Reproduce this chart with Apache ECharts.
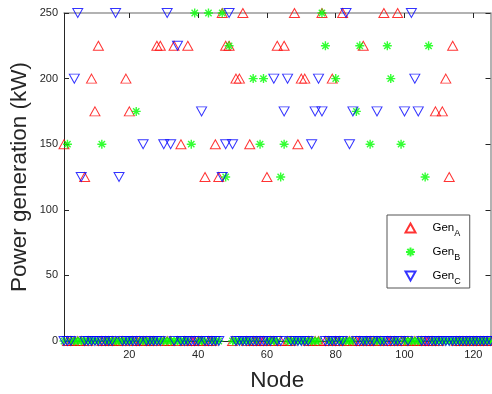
<!DOCTYPE html>
<html><head><meta charset="utf-8">
<script src="https://cdn.jsdelivr.net/npm/echarts@6/dist/echarts.min.js"></script>
<style>html,body{margin:0;padding:0;background:#fff}#c{width:492px;height:394px}</style>
</head><body><div id="c"></div>
<script>
// Node indices 1..125
const nodes = Array.from({length: 125}, (_, i) => i + 1);
const xTickValues = [20, 40, 60, 80, 100, 120];

const genA = [
  150,0,0,0,0,0,125,0,200,175,
  225,0,0,0,0,0,0,0,200,175,
  0,0,0,0,0,0,0,225,225,0,
  0,0,225,0,150,0,225,0,0,0,
  0,125,0,0,150,125,250,225,225,0,
  200,200,250,0,150,0,0,0,0,125,
  0,0,225,0,225,0,0,250,150,200,
  200,0,0,0,0,250,0,0,200,0,
  0,250,0,0,0,0,0,225,0,0,
  0,0,0,250,0,0,0,250,0,0,
  0,0,0,0,0,0,0,0,175,0,
  175,200,125,225,0,0,0,0,0,0,
  0,0,0,0,0
];
const genB = [
  0,150,0,0,0,0,0,0,0,0,
  0,150,0,0,0,0,0,0,0,0,
  0,175,0,0,0,0,0,0,0,0,
  0,0,0,0,0,0,0,150,250,0,
  0,0,250,0,0,0,250,125,225,0,
  0,0,0,0,0,200,0,150,200,0,
  0,0,0,125,150,0,0,0,0,0,
  0,0,0,0,0,250,225,0,0,200,
  0,0,0,0,0,175,225,0,0,150,
  0,0,0,0,225,200,0,0,150,0,
  0,0,0,0,0,125,225,0,0,0,
  0,0,0,0,0,0,0,0,0,0,
  0,0,0,0,0
];
const genC = [
  0,0,0,200,250,125,0,0,0,0,
  0,0,0,0,0,250,125,0,0,0,
  0,0,0,150,0,0,0,0,0,150,
  250,150,0,225,0,0,0,0,0,0,
  175,0,0,0,0,0,125,150,250,150,
  0,0,0,0,0,0,0,0,0,0,
  0,200,0,0,175,200,0,0,0,0,
  0,0,150,175,200,175,0,0,0,0,
  0,0,250,150,175,0,0,0,0,0,
  0,175,0,0,0,0,0,0,0,175,
  0,250,200,175,0,0,0,0,0,0,
  0,0,0,0,0,0,0,0,0,0,
  0,0,0,0,0
];

const FONT = 'Liberation Sans, Arial, Helvetica, sans-serif';
const AX = '#262626';
const triUp = 'path://M5,0L10,9L0,9Z';
const triDown = 'path://M0,0L10,0L5,9Z';
const star = 'path://M0,5L10,5M5,0L5,10M1.5,1.5L8.5,8.5M8.5,1.5L1.5,8.5';

function mk(name, vals, symbol, size, color, bw) {
  return {
    name: name, type: 'scatter', symbol: symbol, symbolSize: size,
    data: nodes.map((n, i) => [n, vals[i]]),
    itemStyle: {color: 'none', borderColor: color, borderWidth: bw},
    emphasis: {disabled: true}
  };
}

const chart = echarts.init(document.getElementById('c'), null, {renderer: 'canvas'});
chart.setOption({
  animation: false,
  backgroundColor: '#fff',
  grid: {left: 64, right: 1.5, top: 13, bottom: 53, containLabel: false, outerBoundsMode: 'none'},
  legend: {
    orient: 'vertical', left: 387, top: 215,
    padding: [6, 9, 2, 16], itemGap: 7, itemWidth: 10, itemHeight: 9,
    borderColor: '#555', borderWidth: 1, backgroundColor: '#fff',
    data: ['Gen_A', 'Gen_B', 'Gen_C'],
    formatter: n => '{g|Gen}{s|' + n.slice(-1) + '}',
    textStyle: {
      fontFamily: FONT, color: '#000',
      rich: {
        g: {fontSize: 11.5, lineHeight: 20, fontFamily: FONT, color: '#000', padding: [0, 0, 0, 12]},
        s: {fontSize: 9, lineHeight: 9, verticalAlign: 'bottom', fontFamily: FONT, color: '#000'}
      }
    }
  },
  xAxis: [{
    type: 'value', min: 1, max: 125, position: 'bottom',
    name: 'Node', nameLocation: 'middle', nameGap: 28,
    nameTextStyle: {fontSize: 22.5, color: AX, fontFamily: FONT},
    axisLine: {show: true, onZero: false, lineStyle: {color: AX, width: 1}},
    axisTick: {show: true, inside: true, length: 5, customValues: xTickValues, lineStyle: {color: AX}},
    axisLabel: {customValues: xTickValues, fontSize: 11, color: AX, margin: 8, fontFamily: FONT},
    splitLine: {show: false}
  }, {
    type: 'value', min: 1, max: 125, position: 'top',
    axisLine: {show: true, onZero: false, lineStyle: {color: '#999', width: 1.5}},
    axisTick: {show: true, inside: true, length: 5, customValues: xTickValues, lineStyle: {color: AX}},
    axisLabel: {show: false},
    splitLine: {show: false}
  }],
  yAxis: [{
    type: 'value', min: 0, max: 250, interval: 50, position: 'left',
    name: 'Power generation (kW)', nameLocation: 'middle', nameGap: 33, nameMoveOverlap: false,
    nameTextStyle: {fontSize: 22.5, color: AX, fontFamily: FONT},
    axisLine: {show: true, onZero: false, lineStyle: {color: AX, width: 1}},
    axisTick: {show: true, inside: true, length: 5, lineStyle: {color: AX}},
    axisLabel: {fontSize: 11, color: AX, margin: 6, fontFamily: FONT},
    splitLine: {show: false}
  }, {
    type: 'value', min: 0, max: 250, interval: 50, position: 'right',
    axisLine: {show: true, onZero: false, lineStyle: {color: '#999', width: 1.5}},
    axisTick: {show: true, inside: true, length: 5, lineStyle: {color: AX}},
    axisLabel: {show: false},
    splitLine: {show: false}
  }],
  series: [
    mk('Gen_A', genA, triUp, [10, 9], '#ff0000', 1),
    mk('Gen_B', genB, star, [9, 9], '#00ff00', 1.4),
    mk('Gen_C', genC, triDown, [10, 9], '#0000ff', 1)
  ]
});
</script>
</body></html>
